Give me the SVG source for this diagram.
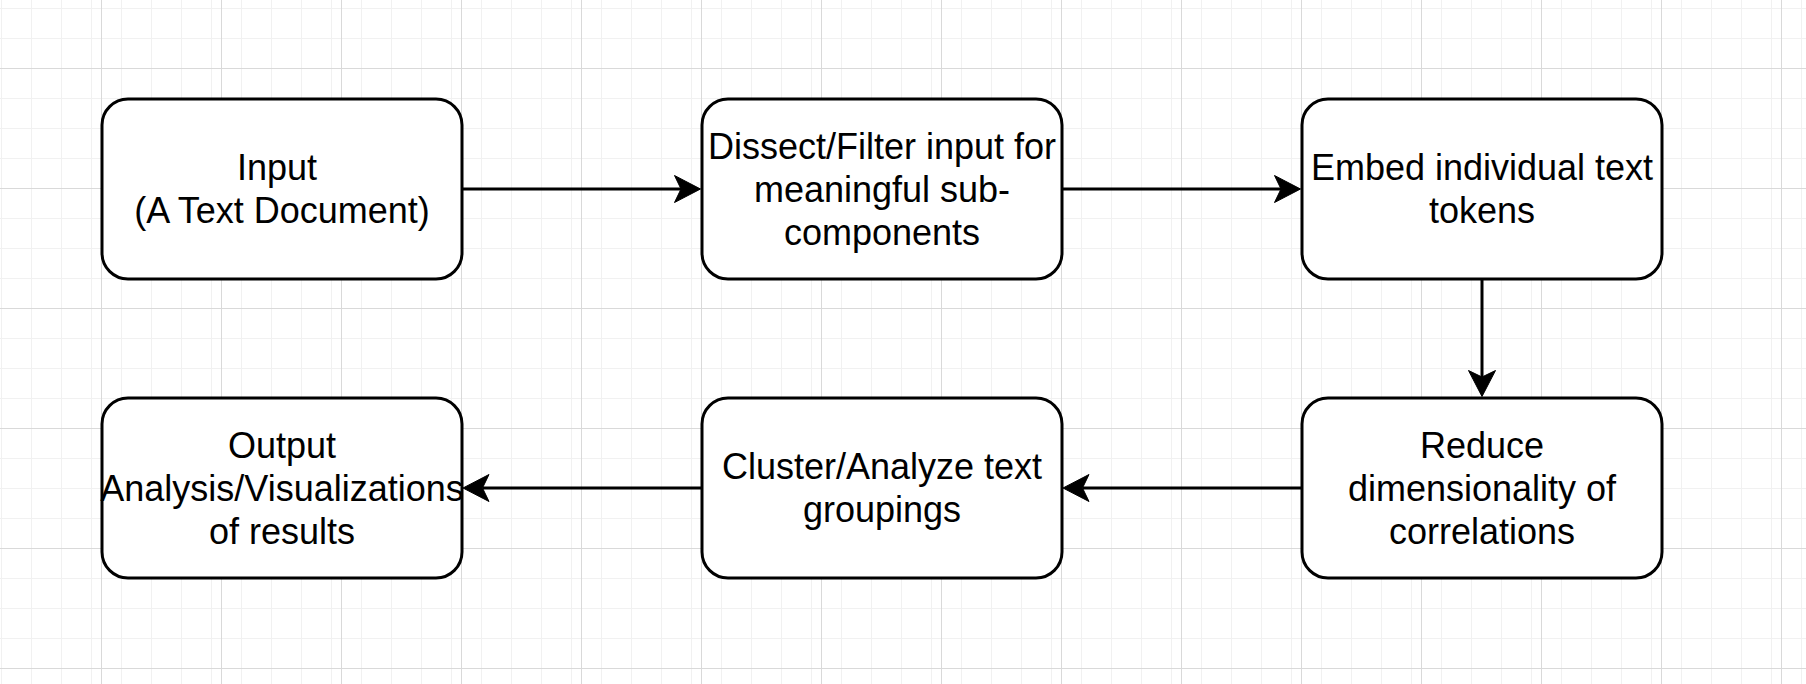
<svg xmlns="http://www.w3.org/2000/svg" width="1806" height="684" viewBox="0 0 1806 684">
  <style>
    .box { fill: #ffffff; stroke: #000000; stroke-width: 3; }
    .lbl { font-family: "Liberation Sans", Arial, sans-serif; font-size: 36px; fill: #000000; text-anchor: middle; }
    .conn { fill: none; stroke: #000000; stroke-width: 3; marker-end: url(#arrow); }
  </style>
  <defs>
    <pattern id="minor" patternUnits="userSpaceOnUse" x="1" y="8" width="30" height="30">
      <rect x="0" y="0" width="1" height="30" fill="#f1f1f1"/>
      <rect x="0" y="0" width="30" height="1" fill="#f1f1f1"/>
    </pattern>
    <pattern id="major" patternUnits="userSpaceOnUse" x="101" y="68" width="120" height="120">
      <rect x="0" y="0" width="1" height="120" fill="#d9d9d9"/>
      <rect x="0" y="0" width="120" height="1" fill="#d9d9d9"/>
    </pattern>
    <marker id="arrow" markerUnits="userSpaceOnUse" markerWidth="40" markerHeight="40" refX="0" refY="0" orient="auto" overflow="visible" viewBox="-20 -20 40 40">
      <path d="M19.5,0 L-6.5,-13.5 L0,0 L-6.5,13.5 Z" fill="#000000" stroke="#000000" stroke-width="1" stroke-linejoin="miter"/>
    </marker>
  </defs>
  <rect width="1806" height="684" fill="#ffffff"/>
  <rect width="1806" height="684" fill="url(#minor)"/>
  <rect width="1806" height="684" fill="url(#major)"/>

  <g id="connectors">
    <path class="conn" d="M462,189 H681"/>
    <path class="conn" d="M1062,189 H1281"/>
    <path class="conn" d="M1482,279 V377"/>
    <path class="conn" d="M1302,488 H1082.5"/>
    <path class="conn" d="M702,488 H482.5"/>
  </g>

  <g id="node-input">
    <rect class="box" x="102" y="99" width="360" height="180" rx="26" ry="26"/>
    <text class="lbl" x="277" y="180">Input</text>
    <text class="lbl" x="282" y="223">(A Text Document)</text>
  </g>
  <g id="node-dissect">
    <rect class="box" x="702" y="99" width="360" height="180" rx="26" ry="26"/>
    <text class="lbl" x="882" y="158.5">Dissect/Filter input for</text>
    <text class="lbl" x="882" y="201.5">meaningful sub-</text>
    <text class="lbl" x="882" y="244.5">components</text>
  </g>
  <g id="node-embed">
    <rect class="box" x="1302" y="99" width="360" height="180" rx="26" ry="26"/>
    <text class="lbl" x="1482" y="180">Embed individual text</text>
    <text class="lbl" x="1482" y="223">tokens</text>
  </g>
  <g id="node-reduce">
    <rect class="box" x="1302" y="398" width="360" height="180" rx="26" ry="26"/>
    <text class="lbl" x="1482" y="457.5">Reduce</text>
    <text class="lbl" x="1482" y="500.5">dimensionality of</text>
    <text class="lbl" x="1482" y="543.5">correlations</text>
  </g>
  <g id="node-cluster">
    <rect class="box" x="702" y="398" width="360" height="180" rx="26" ry="26"/>
    <text class="lbl" x="882" y="479">Cluster/Analyze text</text>
    <text class="lbl" x="882" y="522">groupings</text>
  </g>
  <g id="node-output">
    <rect class="box" x="102" y="398" width="360" height="180" rx="26" ry="26"/>
    <text class="lbl" x="282" y="457.5">Output</text>
    <text class="lbl" x="282" y="500.5">Analysis/Visualizations</text>
    <text class="lbl" x="282" y="543.5">of results</text>
  </g>
</svg>
